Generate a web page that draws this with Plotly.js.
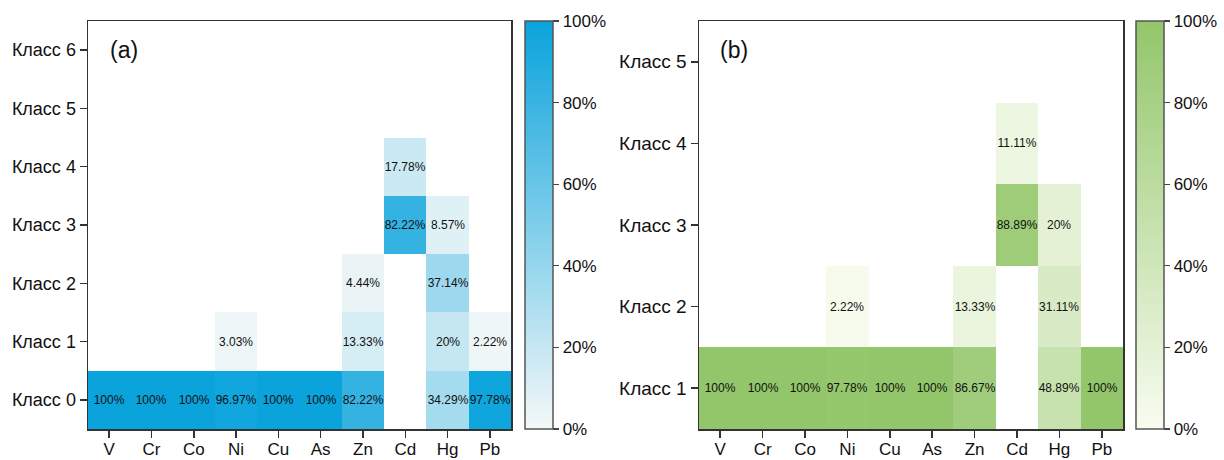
<!DOCTYPE html>
<html>
<head>
<meta charset="utf-8">
<script src="https://cdn.plot.ly/plotly-3.0.1.min.js"></script>
<style>html,body{margin:0;padding:0;background:#fff}</style>
</head>
<body>
<div id="chart" style="width:1224px;height:460px"></div>
<script>
const elements = ['V','Cr','Co','Ni','Cu','As','Zn','Cd','Hg','Pb'];

const classesA = ['Класс 0','Класс 1','Класс 2','Класс 3','Класс 4','Класс 5','Класс 6'];
const a_class0 = [100,100,100,96.97,100,100,82.22,null,34.29,97.78];
const a_class1 = [null,null,null,3.03,null,null,13.33,null,20,2.22];
const a_class2 = [null,null,null,null,null,null,4.44,null,37.14,null];
const a_class3 = [null,null,null,null,null,null,null,82.22,8.57,null];
const a_class4 = [null,null,null,null,null,null,null,17.78,null,null];
const a_class5 = [null,null,null,null,null,null,null,null,null,null];
const a_class6 = [null,null,null,null,null,null,null,null,null,null];

const classesB = ['Класс 1','Класс 2','Класс 3','Класс 4','Класс 5'];
const b_class1 = [100,100,100,97.78,100,100,86.67,null,48.89,100];
const b_class2 = [null,null,null,2.22,null,null,13.33,null,31.11,null];
const b_class3 = [null,null,null,null,null,null,null,88.89,20,null];
const b_class4 = [null,null,null,null,null,null,null,11.11,null,null];
const b_class5 = [null,null,null,null,null,null,null,null,null,null];

const cbTicks = [0,20,40,60,80,100];
const cbTickText = ['0%','20%','40%','60%','80%','100%'];

const zA = [a_class0,a_class1,a_class2,a_class3,a_class4,a_class5,a_class6];
const zB = [b_class1,b_class2,b_class3,b_class4,b_class5];
const fmt = z => z.map(r => r.map(v => v === null ? '' : (Math.round(v*100)/100) + '%'));

const W = 1224;
const FONT = 'Liberation Sans, Arial, sans-serif';
const cbCommon = {
  thickness: 28, thicknessmode: 'pixels', len: 1, lenmode: 'fraction',
  y: 0.5, yanchor: 'middle', xanchor: 'left', xpad: 0, ypad: 0,
  outlinewidth: 1.5, outlinecolor: '#555',
  ticks: 'outside', ticklen: 6, tickwidth: 1.2, tickcolor: '#444',
  tickvals: cbTicks, ticktext: cbTickText,
  tickfont: {family: FONT, size: 17, color: '#111'}
};

const traceA = {
  type: 'heatmap', x: elements, y: classesA, z: zA,
  text: fmt(zA), texttemplate: '%{text}',
  textfont: {family: FONT, size: 12, color: '#111'},
  zmin: 0, zmax: 100,
  colorscale: [[0,'#F4F8F8'],[1,'#0AA3DC']],
  xaxis: 'x', yaxis: 'y', hoverongaps: false,
  colorbar: Object.assign({}, cbCommon, {x: 525/W})
};
const traceB = {
  type: 'heatmap', x: elements, y: classesB, z: zB,
  text: fmt(zB), texttemplate: '%{text}',
  textfont: {family: FONT, size: 12, color: '#111'},
  zmin: 0, zmax: 100,
  colorscale: [[0,'#F8FCF0'],[1,'#93C66A']],
  xaxis: 'x2', yaxis: 'y2', hoverongaps: false,
  colorbar: Object.assign({}, cbCommon, {x: 1136/W})
};

const axisCommon = {
  showline: true, mirror: true, linecolor: '#333', linewidth: 1.5,
  ticks: 'outside', ticklen: 7, tickwidth: 1.5, tickcolor: '#333',
  showgrid: false, zeroline: false, fixedrange: true,
  tickfont: {family: FONT, size: 18, color: '#111'}
};
const xExtra = {ticklabelstandoff: -3, tickfont: {family: FONT, size: 17, color: '#111'}};

const layout = {
  width: 1224, height: 460,
  margin: {l: 0, r: 0, t: 21, b: 31},
  paper_bgcolor: '#fff', plot_bgcolor: '#fff',
  showlegend: false,
  xaxis: Object.assign({}, axisCommon, xExtra, {domain: [88/W, 511/W], anchor: 'y', type: 'category', range: [-0.5, 9.5]}),
  yaxis: Object.assign({}, axisCommon, {domain: [0, 1], anchor: 'x', type: 'category', range: [-0.5, 6.5]}),
  xaxis2: Object.assign({}, axisCommon, xExtra, {domain: [699/W, 1123/W], anchor: 'y2', type: 'category', range: [-0.5, 9.5]}),
  yaxis2: Object.assign({}, axisCommon, {domain: [0, 1], anchor: 'x2', type: 'category', range: [-0.5, 4.5],
    tickfont: {family: FONT, size: 19, color: '#111'}}),
  annotations: [
    {text: '(a)', xref: 'paper', yref: 'paper', x: 124/W, y: (429-50)/408, xanchor: 'center', yanchor: 'middle',
     showarrow: false, font: {family: FONT, size: 23, color: '#111'}},
    {text: '(b)', xref: 'paper', yref: 'paper', x: 734/W, y: (429-50)/408, xanchor: 'center', yanchor: 'middle',
     showarrow: false, font: {family: FONT, size: 23, color: '#111'}}
  ]
};

Plotly.newPlot('chart', [traceA, traceB], layout, {displayModeBar: false, staticPlot: true});
</script>
</body>
</html>
